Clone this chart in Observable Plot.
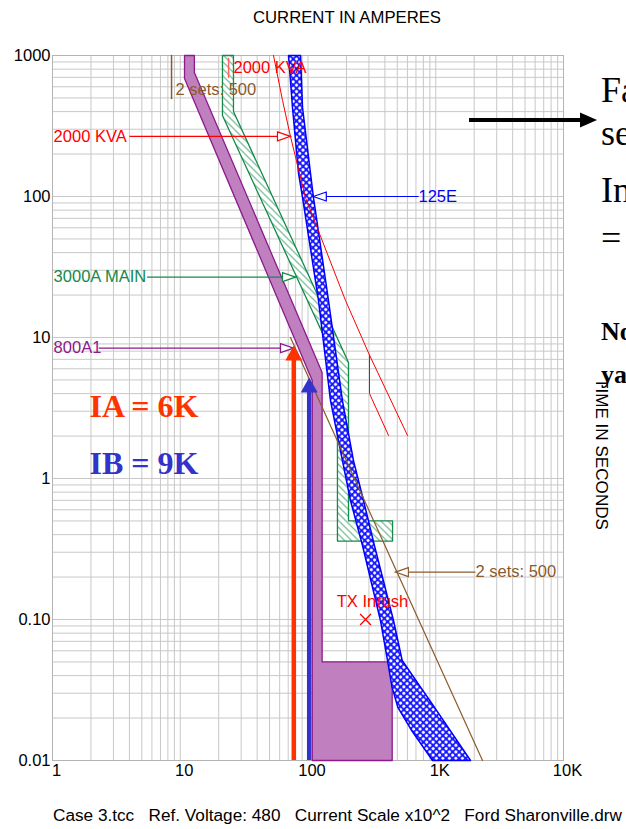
<!DOCTYPE html>
<html><head><meta charset="utf-8">
<script src="https://cdn.jsdelivr.net/npm/d3@7"></script>
<script src="https://cdn.jsdelivr.net/npm/@observablehq/plot@0.6"></script>
<style>body{margin:0;background:#fff;overflow:hidden;width:626px;height:829px} #chart svg{display:block}</style>
</head><body>
<svg width="0" height="0" style="position:absolute">
<defs>
<pattern id="ghatch" patternUnits="userSpaceOnUse" width="7" height="7">
<rect width="7" height="7" fill="white"/>
<path d="M-1,-1 L8,8 M-1,6 L1,8 M6,-1 L8,1" stroke="#138a4a" stroke-width="1"/>
</pattern>
<pattern id="bcross" patternUnits="userSpaceOnUse" width="4.6" height="4.6" patternTransform="rotate(45)">
<rect width="4.6" height="4.6" fill="#1a1aff"/>
<circle cx="2.3" cy="2.3" r="1.55" fill="white"/>
</pattern>
</defs></svg>
<div id="chart"></div>
<script>
// axes
const xTicks = [1, 10, 100, 1000, 10000];
const xTickLabels = ["1", "10", "100", "1K", "10K"];
const yTicks = [0.01, 0.1, 1, 10, 100, 1000];
const yTickLabels = ["0.01", "0.10", "1", "10", "100", "1000"];

// 800A1 breaker band (current A x10^2, time s)
const band800I = [10.8, 10.8, 108, 108, 456, 456, 129, 129, 12.9, 12.9, 10.8];
const band800T = [1000, 687, 4.95, 0.01, 0.01, 0.05, 0.05, 5.65, 757, 1000, 1000];

// 3000A MAIN band
const bandMainI = [21.4, 21.4, 170, 170, 459, 459, 207.5, 207.5, 26.1, 26.1, 21.4];
const bandMainT = [1000, 375, 6.3, 0.36, 0.36, 0.5, 0.5, 6.65, 401, 1000, 1000];

// 125E fuse band: left edge then right edge
const fuseLeftI = [70.4, 75.6, 84.3, 90.6, 120.8, 150, 186, 215, 267, 369, 419, 455, 505, 640, 943];
const fuseLeftT = [1000, 428, 146, 98.4, 18.3, 3.57, 1.34, 0.698, 0.335, 0.0984, 0.0512, 0.033, 0.0238, 0.0166, 0.01];
const fuseRightI = [1871, 978, 546, 467, 331, 272, 227, 186, 144.7, 110.4, 104.6, 90.6, 87.4, 70.4];
const fuseRightT = [0.01, 0.0238, 0.0512, 0.0984, 0.335, 0.698, 1.34, 3.57, 18.3, 98.4, 146, 428, 1000, 1000];

// 2000 KVA transformer damage curves
const kvaAI = [53.7, 63.2, 72.9, 95.5, 196.6, 303, 601];
const kvaAT = [1000, 480, 267, 98.4, 18.3, 7.5, 2.02];
const kvaBI = [303, 303, 427];
const kvaBT = [7.5, 4.0, 2.02];
const kvaTickI = [23.9, 23.9];
const kvaTickT = [952, 698];

// 2 sets: 500 (brown)
const setsI = [72.9, 2323];
const setsT = [10, 0.01];
const setsTopI = [8.55, 8.55];
const setsTopT = [1000, 495];

// TX inrush point
const inrushI = [282];
const inrushT = [0.1];

// fault current arrows
const faultNames = ["IA = 6K", "IB = 9K"];
const faultI = [77.4, 102.2];
const faultTip = [8.78, 5.2];
const faultShaftTop = [7.4, 4.4];
const faultColors = ["#ff3300", "#3333cc"];
const faultLabelI = [1.95, 1.95];
const faultLabelT = [3.21, 1.27];

// curve labels (start-anchored)
const labelTexts = ["2000 KVA", "2 sets: 500", "2000 KVA", "3000A MAIN", "800A1", "125E", "2 sets: 500"];
const labelI = [26.1, 9.18, 1.02, 1.02, 1.02, 733, 2047];
const labelT = [822, 571, 267, 26.8, 8.4, 100, 0.217];
const labelColors = ["#ff0000", "#8b5a2b", "#ff0000", "#138a4a", "#8b1a8b", "#0000ff", "#8b5a2b"];
// centred label
const inrushLabel = ["TX Inrush"];
const inrushLabelI = [320];
const inrushLabelT = [0.134];

// leaders with open arrowheads
const leaderFrom = [4.0, 5.5, 2.3, 733, 2047];
const leaderTip = [72.9, 79.8, 77, 110, 483];
const leaderT = [267, 26.8, 8.4, 100, 0.217];
const leaderDir = ["right", "right", "right", "left", "left"];
const leaderColors = ["#ff0000", "#138a4a", "#8b1a8b", "#0000ff", "#8b5a2b"];

const pts = (I, T) => I.map((v, i) => ({x: v, y: T[i]}));
const fusePoly = pts(fuseLeftI, fuseLeftT).concat(pts(fuseRightI, fuseRightT));

const xGrid = [], yGrid = [];
for (let k = 0; k < 4; k++) for (let m = 1; m < 10; m++) xGrid.push(m * 10 ** k);
xGrid.push(10000);
for (let k = -2; k < 3; k++) for (let m = 1; m < 10; m++) yGrid.push(+(m * 10 ** k).toPrecision(3));
yGrid.push(1000);

const xFmt = new Map(xTicks.map((v, i) => [v, xTickLabels[i]]));
const yFmt = new Map(yTicks.map((v, i) => [v, yTickLabels[i]]));

const headRight = {draw(c) { c.moveTo(0, 0); c.lineTo(-13, -4.5); c.lineTo(-13, 4.5); c.closePath(); }};
const headLeft = {draw(c) { c.moveTo(0, 0); c.lineTo(13, -4.5); c.lineTo(13, 4.5); c.closePath(); }};
const headUp = {draw(c) { c.moveTo(0, 0); c.lineTo(-8.5, 15); c.lineTo(8.5, 15); c.closePath(); }};

const leaders = leaderFrom.map((v, i) => ({x1: v, x2: leaderTip[i], y: leaderT[i], c: leaderColors[i], d: leaderDir[i]}));
const labels = labelTexts.map((t, i) => ({t, x: labelI[i], y: labelT[i], c: labelColors[i]}));
const faults = faultNames.map((n, i) => ({n, x: faultI[i], tip: faultTip[i], top: faultShaftTop[i], c: faultColors[i], lx: faultLabelI[i], ly: faultLabelT[i]}));

const font = "'Liberation Sans', Arial, sans-serif";
const serif = "'Liberation Serif', 'Times New Roman', serif";

const chart = Plot.plot({
  width: 626, height: 829,
  marginTop: 55, marginBottom: 69, marginLeft: 52, marginRight: 63,
  x: {type: "log", domain: [1, 10000]},
  y: {type: "log", domain: [0.01, 1000]},
  style: {fontFamily: font, fontSize: "16.5px", background: "white"},
  marks: [
    Plot.ruleX(xGrid, {stroke: "#c8c8c8", strokeWidth: 1}),
    Plot.ruleY(yGrid, {stroke: "#c8c8c8", strokeWidth: 1}),
    Plot.frame({stroke: "#b4b4b4"}),
    Plot.axisX({ticks: xTicks, tickFormat: d => xFmt.get(d), tickSize: 0, tickPadding: 4, dx: 4, label: null, fontSize: 16.5, fill: "#000"}),
    Plot.axisY({ticks: yTicks, tickFormat: d => yFmt.get(d), tickSize: 0, tickPadding: 2, label: null, fontSize: 16.5, fill: "#000"}),
    // 800A1
    Plot.line(pts(band800I, band800T), {x: "x", y: "y", fill: "#c080c0", stroke: "#8b1a8b", strokeWidth: 1.3, curve: "linear"}),
    // 3000A main
    Plot.line(pts(bandMainI, bandMainT), {x: "x", y: "y", fill: "url(#ghatch)", stroke: "#138a4a", strokeWidth: 1.3, curve: "linear"}),
    // 125E fuse
    Plot.line(fusePoly, {x: "x", y: "y", fill: "url(#bcross)", stroke: "#0000ff", strokeWidth: 1.5, curve: "linear"}),
    // transformer damage
    Plot.line(pts(kvaAI, kvaAT), {x: "x", y: "y", stroke: "#ff0000", strokeWidth: 1, curve: "linear"}),
    Plot.line(pts(kvaBI, kvaBT), {x: "x", y: "y", stroke: "#ff0000", strokeWidth: 1, curve: "linear"}),
    Plot.line(pts(kvaTickI, kvaTickT), {x: "x", y: "y", stroke: "#ff6060", strokeWidth: 1.5}),
    // 2 sets 500
    Plot.line(pts(setsI, setsT), {x: "x", y: "y", stroke: "#8b5a2b", strokeWidth: 1.2}),
    Plot.line(pts(setsTopI, setsTopT), {x: "x", y: "y", stroke: "#8b5a2b", strokeWidth: 1.5}),
    // inrush
    Plot.dot(pts(inrushI, inrushT), {x: "x", y: "y", symbol: "times", r: 5, stroke: "#ff0000", strokeWidth: 1.3}),
    // leaders
    Plot.link(leaders, {x1: "x1", x2: "x2", y1: "y", y2: "y", stroke: "c", strokeWidth: 1.2}),
    Plot.dot(leaders, {x: "x2", y: "y", symbol: d => d.d === "right" ? headRight : headLeft, fill: "white", stroke: "c", strokeWidth: 1.2, r: 5}),
    // fault arrows
    Plot.ruleX(faults, {x: "x", y1: 0.01, y2: "top", stroke: "c", strokeWidth: 4.5, strokeLinecap: "butt"}),
    Plot.dot(faults, {x: "x", y: "tip", symbol: () => headUp, fill: "c", stroke: "none", r: 5}),
    Plot.text(faults, {x: "lx", y: "ly", text: "n", fill: "c", textAnchor: "start", fontFamily: serif, fontWeight: "bold", fontSize: 32}),
    // labels
    Plot.text(labels, {x: "x", y: "y", text: "t", fill: "c", textAnchor: "start", fontSize: 16.5}),
    Plot.text(inrushLabel, {x: () => inrushLabelI[0], y: () => inrushLabelT[0], text: d => d, fill: "#ff0000", textAnchor: "middle", fontSize: 16.5}),
  ]
});
document.getElementById("chart").appendChild(chart);

const svg = d3.select(chart.tagName.toLowerCase() === "svg" ? chart : chart.querySelector("svg"));

// title, footer and side text
svg.append("text").attr("x", 347).attr("y", 23).attr("text-anchor", "middle")
  .attr("font-family", font).attr("font-size", 17).attr("fill", "#000")
  .attr("textLength", 188).attr("lengthAdjust", "spacingAndGlyphs").text("CURRENT IN AMPERES");
svg.append("text").attr("x", 53).attr("y", 821).attr("text-anchor", "start")
  .attr("font-family", font).attr("font-size", 16).attr("fill", "#000")
  .attr("textLength", 569).attr("lengthAdjust", "spacingAndGlyphs")
  .style("white-space", "pre")
  .text("Case 3.tcc   Ref. Voltage: 480   Current Scale x10^2   Ford Sharonville.drw");
svg.append("text").attr("transform", "translate(596,454) rotate(90)").attr("text-anchor", "middle")
  .attr("font-family", font).attr("font-size", 16).attr("fill", "#000")
  .attr("textLength", 152).attr("lengthAdjust", "spacingAndGlyphs").text("TIME IN SECONDS");

const side = [["Fa", 102, 36, "normal"], ["se", 145, 36, "normal"], ["In", 202, 36, "normal"], ["=", 250, 36, "normal"], ["No", 340, 26, "bold"], ["ya", 383, 26, "bold"]];
for (const [t, y, s, w] of side) {
  svg.append("text").attr("x", 601).attr("y", y).attr("text-anchor", "start").attr("font-family", serif)
    .attr("font-size", s).attr("font-weight", w).attr("fill", "#000").text(t);
}
// black slide arrow
svg.append("line").attr("x1", 469).attr("x2", 582).attr("y1", 120).attr("y2", 120).attr("stroke", "#000").attr("stroke-width", 4);
svg.append("path").attr("d", "M597,120 L580,112.5 L580,127.5 Z").attr("fill", "#000");
</script>
</body></html>
